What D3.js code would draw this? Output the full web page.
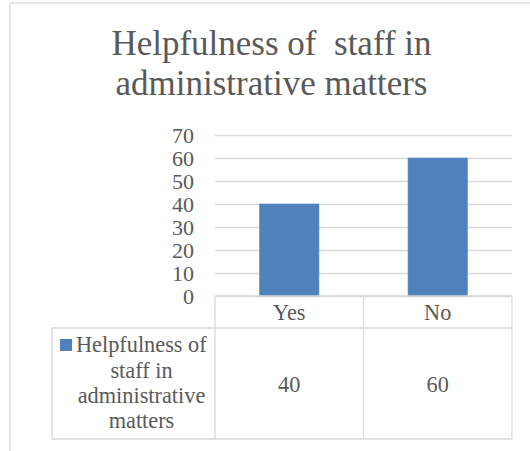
<!DOCTYPE html>
<html><head><meta charset="utf-8">
<script src="https://cdn.jsdelivr.net/npm/d3@7"></script>
<style>
html,body{margin:0;padding:0;background:#fff;}
svg{display:block;}
</style></head>
<body>
<script>
const title = ["Helpfulness of  staff in", "administrative matters"];
const categories = ["Yes", "No"];
const seriesName = "Helpfulness of staff in administrative matters";
const seriesLines = ["Helpfulness of", "staff in", "administrative", "matters"];
const values = [40, 60];
const yTicks = [0, 10, 20, 30, 40, 50, 60, 70];

const W = 530, H = 451;
const FONT = '"Liberation Serif"';
const textColor = "#595959";
const gridColor = "#d9d9d9";
const barColor = "#4f81bd";
const small = "22.3px";

const svg = d3.select("body").append("svg").attr("width", W).attr("height", H);

// outer chart frame
svg.append("rect").attr("x", 10).attr("y", 3).attr("width", 540).attr("height", 470)
  .attr("fill", "#fff").attr("stroke", gridColor).attr("stroke-width", 1.3);

// title
const tg = svg.append("g").attr("fill", textColor).attr("text-anchor", "middle");
title.forEach((t, i) => tg.append("text").attr("x", 271.5).attr("y", 55 + i * 39.5)
  .style("font-family", FONT).style("font-size", "35px").style("white-space", "pre").text(t));

const plotLeft = 215, plotRight = 512, plotTop = 135, plotBottom = 296;
const x = d3.scaleBand().domain(categories).range([plotLeft, plotRight]).paddingInner(0.6).paddingOuter(0.3);
const xCell = d3.scaleBand().domain(categories).range([plotLeft, plotRight]);
const y = d3.scaleLinear().domain([0, 70]).range([plotBottom, plotTop]);

// gridlines
svg.append("g").selectAll("line").data(yTicks).join("line")
  .attr("x1", plotLeft).attr("x2", plotRight)
  .attr("y1", d => y(d) + 0.5).attr("y2", d => y(d) + 0.5)
  .attr("stroke", gridColor).attr("stroke-width", 1.3);

// y axis labels
const yAxis = d3.axisLeft(y).tickValues(yTicks).tickSize(0).tickPadding(0);
const ya = svg.append("g").attr("transform", `translate(194,0)`).call(yAxis);
ya.select(".domain").remove();
ya.selectAll("text").style("font-family", FONT).style("font-size", "22px")
  .attr("fill", textColor).attr("dy", "0.34em");

// bars
svg.append("g").selectAll("rect").data(values).join("rect")
  .attr("x", (d, i) => x(categories[i]))
  .attr("width", x.bandwidth())
  .attr("y", d => y(d))
  .attr("height", d => y(0) - y(d))
  .attr("fill", barColor).attr("stroke", "#5a8ac6").attr("stroke-width", 0.6);

// data table
const rowTop = 296, rowMid = 328, rowBot = 439, legLeft = 52;
const tbl = svg.append("g").attr("stroke", gridColor).attr("stroke-width", 1.3).attr("fill", "none");
tbl.append("line").attr("x1", plotLeft).attr("x2", plotRight).attr("y1", rowTop).attr("y2", rowTop);
tbl.append("line").attr("x1", legLeft).attr("x2", plotRight).attr("y1", rowMid).attr("y2", rowMid);
tbl.append("line").attr("x1", legLeft).attr("x2", plotRight).attr("y1", rowBot).attr("y2", rowBot);
tbl.append("line").attr("x1", legLeft).attr("x2", legLeft).attr("y1", rowMid).attr("y2", rowBot);
[plotLeft, ...categories.map(c => xCell(c) + xCell.bandwidth())].forEach(xx =>
  tbl.append("line").attr("x1", xx).attr("x2", xx).attr("y1", rowTop).attr("y2", rowBot));

const tt = svg.append("g").attr("fill", textColor).attr("text-anchor", "middle");
categories.forEach((c, i) => {
  const cx = xCell(c) + xCell.bandwidth() / 2;
  tt.append("text").attr("x", cx).attr("y", 320).style("font-family", FONT).style("font-size", small).text(c);
  tt.append("text").attr("x", cx).attr("y", 391.5).style("font-family", FONT).style("font-size", small).text(values[i]);
});

// legend key
svg.append("rect").attr("x", 60).attr("y", 339).attr("width", 12).attr("height", 12).attr("fill", barColor);
const lg = svg.append("g").attr("fill", textColor);
lg.append("text").attr("x", 76).attr("y", 352).style("font-family", FONT).style("font-size", small).text(seriesLines[0]);
seriesLines.slice(1).forEach((t, i) =>
  lg.append("text").attr("x", 141.5).attr("y", 377.5 + i * 25.3).attr("text-anchor", "middle")
    .style("font-family", FONT).style("font-size", small).text(t));
</script>
</body></html>
